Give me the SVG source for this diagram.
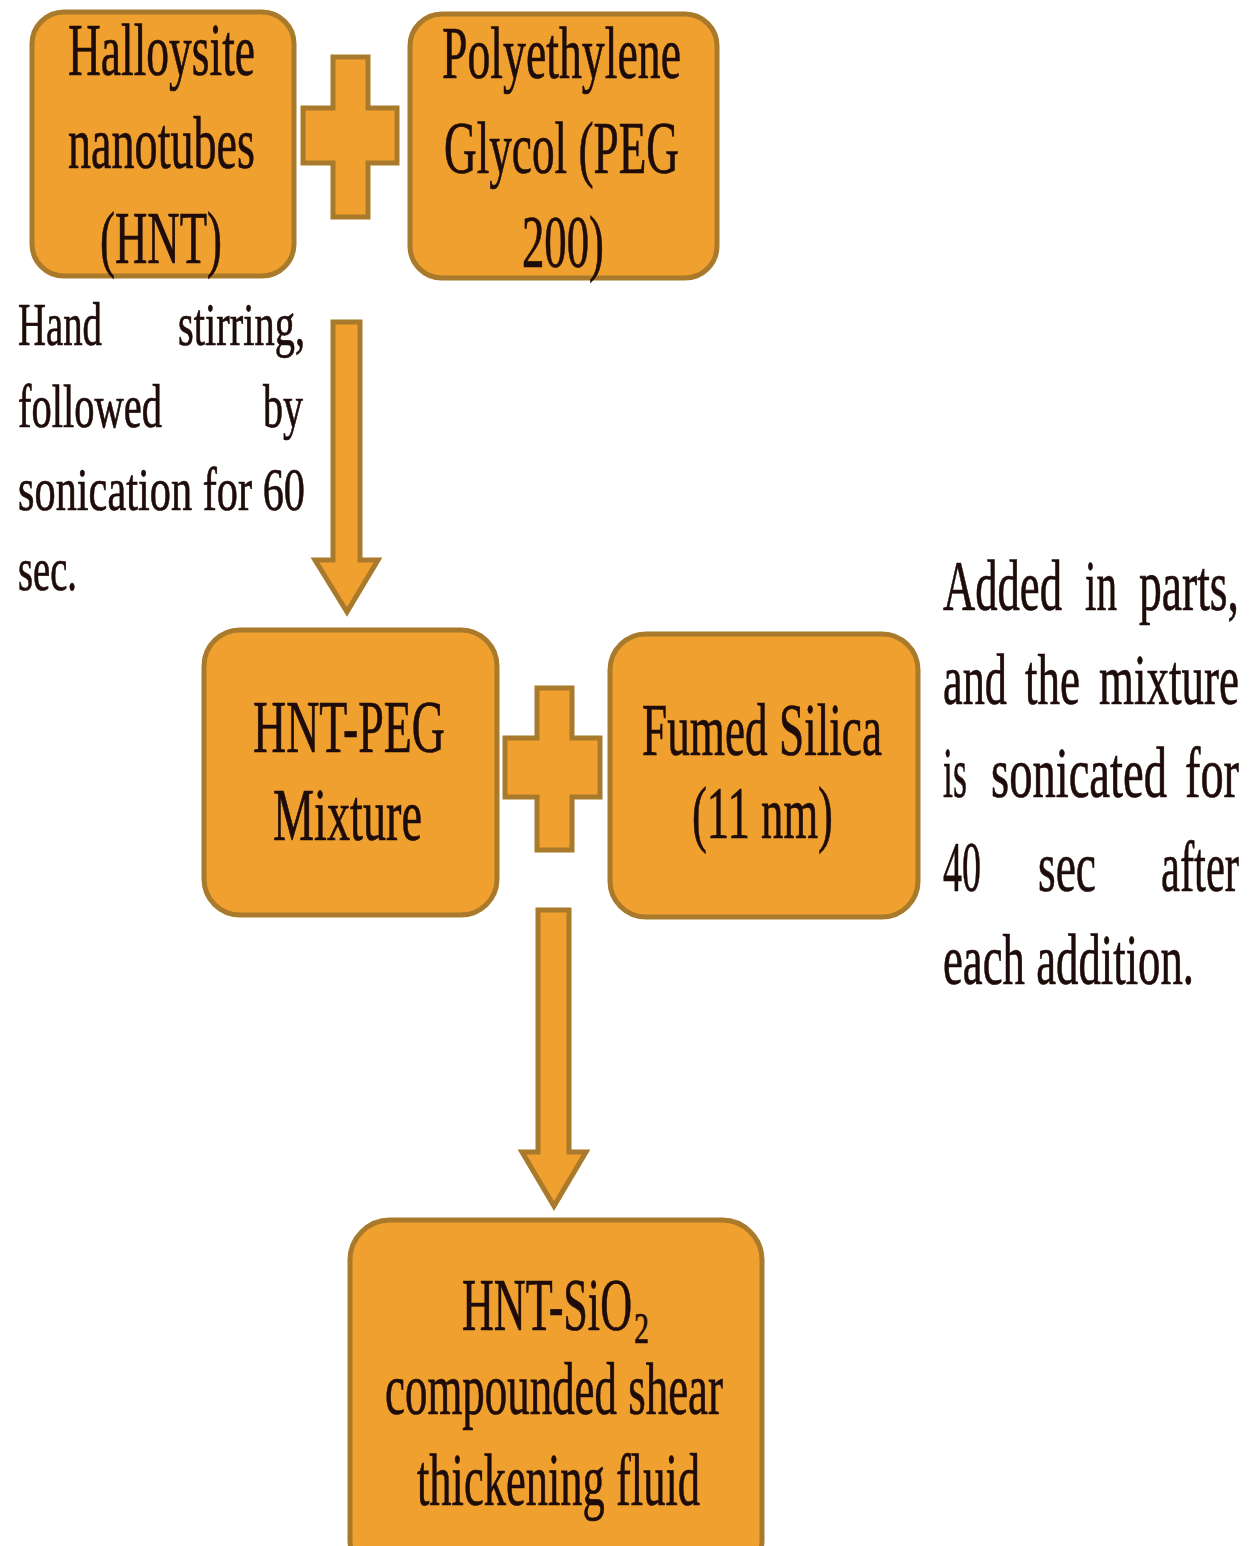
<svg xmlns="http://www.w3.org/2000/svg" width="1258" height="1546" viewBox="0 0 1258 1546">
<style>
.box{fill:#F0A02E;stroke:#A97A2C;stroke-width:5}
.shape{fill:#F0A02E;stroke:#A97A2C;stroke-width:5;stroke-linejoin:miter}
.t{font-family:"Liberation Serif","Times New Roman",serif;fill:#1e0c0a;stroke:#1e0c0a;stroke-width:0.7}
.bt{font-size:74px}
.nt{font-size:62px}
.rt{font-size:72px}
</style>
<rect width="1258" height="1546" fill="#ffffff"/>
<g id="connectors">
<polygon class="shape" points="303,108 333,108 333,57 368,57 368,108 397,108 397,163 368,163 368,217 333,217 333,163 303,163"/>
<polygon class="shape" points="505,738 537,738 537,688 572,688 572,738 600,738 600,797 572,797 572,850 537,850 537,797 505,797"/>
<polygon id="arrow1" class="shape" points="333,322 360,322 360,560 378,560 347,612 315,560 333,560"/>
<polygon id="arrow2" class="shape" points="538,910 569,910 569,1152 586,1152 554,1206 522,1152 538,1152"/>
</g>
<g id="node-hnt">
<rect class="box" x="32" y="12" width="262" height="264" rx="32"/>
<text class="t bt" x="68" y="75" textLength="187" lengthAdjust="spacingAndGlyphs">Halloysite</text>
<text class="t bt" x="68" y="168" textLength="187" lengthAdjust="spacingAndGlyphs">nanotubes</text>
<text class="t bt" x="100" y="263" textLength="122" lengthAdjust="spacingAndGlyphs">(HNT)</text>
</g>
<g id="node-peg">
<rect class="box" x="410" y="14" width="307" height="264" rx="32"/>
<text class="t bt" x="442" y="78" textLength="239" lengthAdjust="spacingAndGlyphs">Polyethylene</text>
<text class="t bt" x="444" y="173" textLength="235" lengthAdjust="spacingAndGlyphs">Glycol (PEG</text>
<text class="t bt" x="522" y="267" textLength="82" lengthAdjust="spacingAndGlyphs">200)</text>
</g>
<g id="note-left">
<text class="t nt" x="18" y="345" textLength="84" lengthAdjust="spacingAndGlyphs">Hand</text>
<text class="t nt" x="178" y="345" textLength="127" lengthAdjust="spacingAndGlyphs">stirring,</text>
<text class="t nt" x="18" y="427" textLength="144" lengthAdjust="spacingAndGlyphs">followed</text>
<text class="t nt" x="263" y="427" textLength="40" lengthAdjust="spacingAndGlyphs">by</text>
<text class="t nt" x="18" y="510" textLength="287" lengthAdjust="spacingAndGlyphs">sonication for 60</text>
<text class="t nt" x="18" y="590" textLength="59" lengthAdjust="spacingAndGlyphs">sec.</text>
</g>
<g id="node-hntpeg">
<rect class="box" x="204" y="630" width="293" height="285" rx="36"/>
<text class="t bt" x="253" y="752" textLength="192" lengthAdjust="spacingAndGlyphs">HNT-PEG</text>
<text class="t bt" x="273" y="840" textLength="149" lengthAdjust="spacingAndGlyphs">Mixture</text>
</g>
<g id="node-silica">
<rect class="box" x="610" y="634" width="308" height="283" rx="36"/>
<text class="t bt" x="642" y="755" textLength="240" lengthAdjust="spacingAndGlyphs">Fumed Silica</text>
<text class="t bt" x="692" y="838" textLength="141" lengthAdjust="spacingAndGlyphs">(11 nm)</text>
</g>
<g id="note-right">
<text class="t rt" x="943" y="610" textLength="119" lengthAdjust="spacingAndGlyphs">Added</text>
<text class="t rt" x="1085" y="610" textLength="32" lengthAdjust="spacingAndGlyphs">in</text>
<text class="t rt" x="1139" y="610" textLength="100" lengthAdjust="spacingAndGlyphs">parts,</text>
<text class="t rt" x="943" y="704" textLength="64" lengthAdjust="spacingAndGlyphs">and</text>
<text class="t rt" x="1025" y="704" textLength="55" lengthAdjust="spacingAndGlyphs">the</text>
<text class="t rt" x="1099" y="704" textLength="140" lengthAdjust="spacingAndGlyphs">mixture</text>
<text class="t rt" x="943" y="797" textLength="24" lengthAdjust="spacingAndGlyphs">is</text>
<text class="t rt" x="991" y="797" textLength="176" lengthAdjust="spacingAndGlyphs">sonicated</text>
<text class="t rt" x="1185" y="797" textLength="54" lengthAdjust="spacingAndGlyphs">for</text>
<text class="t rt" x="943" y="891" textLength="38" lengthAdjust="spacingAndGlyphs">40</text>
<text class="t rt" x="1038" y="891" textLength="58" lengthAdjust="spacingAndGlyphs">sec</text>
<text class="t rt" x="1161" y="891" textLength="78" lengthAdjust="spacingAndGlyphs">after</text>
<text class="t rt" x="943" y="984" textLength="251" lengthAdjust="spacingAndGlyphs">each addition.</text>
</g>
<g id="node-stf">
<rect class="box" x="350" y="1220" width="412" height="360" rx="40"/>
<text class="t bt" x="462" y="1330" textLength="170" lengthAdjust="spacingAndGlyphs">HNT-SiO</text>
<text class="t" x="634" y="1343" font-size="44" textLength="15" lengthAdjust="spacingAndGlyphs">2</text>
<text class="t bt" x="385" y="1414" textLength="338" lengthAdjust="spacingAndGlyphs">compounded shear</text>
<text class="t bt" x="417" y="1505" textLength="283" lengthAdjust="spacingAndGlyphs">thickening fluid</text>
</g>
</svg>
